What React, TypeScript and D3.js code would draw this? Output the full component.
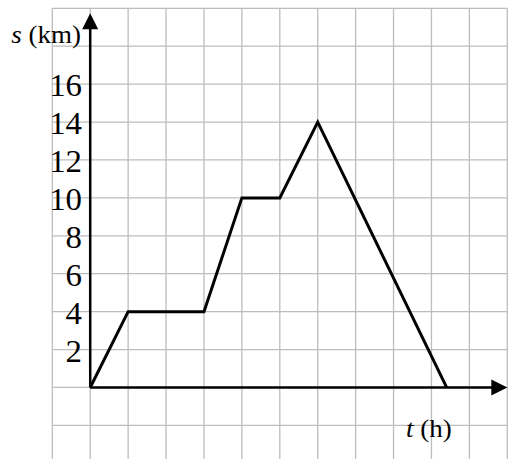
import React from 'react';
import * as d3 from 'd3';

// distance-time graph, values
const hours = [0, 1, 3, 4, 5, 6, 9.4];
const distanceKm = [0, 4, 4, 10, 10, 14, 0];
const sTicks = [2, 4, 6, 8, 10, 12, 14, 16];
const gridT = d3.range(-1, 12, 1);
const gridS = d3.range(-4, 22, 2);

const W = 510;
const H = 459;

export default function App() {
  const x = d3.scaleLinear().domain([-1, 11]).range([52.3, 507.3]);
  const y = d3.scaleLinear().domain([-4, 20]).range([463.3, 8.3]);

  const line = d3.line<number>()
    .x((d, i) => x(hours[i]))
    .y(d => y(d));

  const x0 = x(0);
  const y0 = y(0);
  const arrowLen = 15;
  const arrowHalf = 8;
  const yTip = 13.3;
  const xTip = 507.3;

  const font = '"Liberation Serif", "Times New Roman", serif';

  return (
    <svg width={W} height={H} style={{ position: 'absolute', left: 0, top: 0, background: '#fff' }}>
      <g stroke="#bdbdbd" strokeWidth={1.3}>
        {gridT.map(t => (
          <line key={'gx' + t} x1={x(t)} x2={x(t)} y1={y(20)} y2={y(-4)} />
        ))}
        {gridS.map(s => (
          <line key={'gy' + s} x1={x(-1)} x2={x(11)} y1={y(s)} y2={y(s)} />
        ))}
      </g>

      <g stroke="#000" strokeWidth={2.5}>
        <line x1={x0} x2={x0} y1={y0} y2={yTip + arrowLen} />
        <line x1={x0} x2={xTip - arrowLen} y1={y0} y2={y0} />
      </g>
      <path
        d={`M${x0},${yTip} L${x0 - arrowHalf},${yTip + arrowLen + 1} L${x0 + arrowHalf},${yTip + arrowLen + 1} Z`}
        fill="#000"
      />
      <path
        d={`M${xTip},${y0} L${xTip - arrowLen - 1},${y0 - arrowHalf} L${xTip - arrowLen - 1},${y0 + arrowHalf} Z`}
        fill="#000"
      />

      <path
        d={line(distanceKm) || ''}
        fill="none"
        stroke="#000"
        strokeWidth={3}
        strokeLinejoin="miter"
      />

      <g fontFamily={font} fontSize={31} fill="#000" textAnchor="end">
        {sTicks.map(s => (
          <text key={s} transform={`translate(82,${y(s) + 12}) scale(1.06,1)`}>{s}</text>
        ))}
      </g>

      <text transform="translate(81,43) scale(1.08,1)" fontFamily={font} fontSize={25} textAnchor="end">
        <tspan fontStyle="italic">s</tspan> (km)
      </text>
      <text transform="translate(406,437) scale(1.08,1)" fontFamily={font} fontSize={25}>
        <tspan fontStyle="italic">t</tspan> (h)
      </text>
    </svg>
  );
}
